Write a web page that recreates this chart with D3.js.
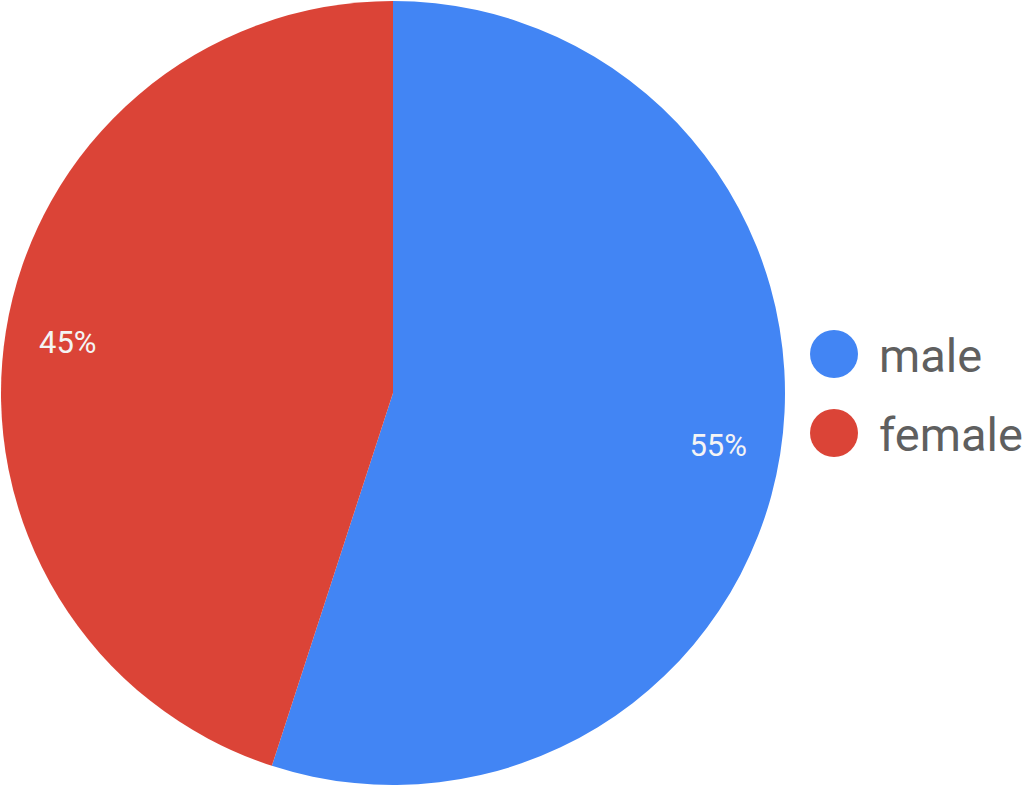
<!DOCTYPE html>
<html>
<head>
<meta charset="utf-8">
<script src="https://cdn.jsdelivr.net/npm/d3@7"></script>
<style>
body { margin: 0; background: #fff; }
svg { display: block; font-family: Roboto, Arial, sans-serif; }
</style>
</head>
<body>
<svg width="1024" height="787"></svg>
<script>
var categories = ['male', 'female'];
var values = [55, 45];
var colors = ['#4285f4', '#db4437'];

var width = 1024;
var height = 787;
var cx = 393, cy = 393, radius = 392;

var svg = d3.select('svg');

var pie = d3.pie().sort(null).value(function(d){ return d; });
var arcs = pie(values);
var total = d3.sum(values);

var arc = d3.arc().innerRadius(0).outerRadius(radius);
var labelArc = d3.arc().innerRadius(radius*0.84).outerRadius(radius*0.84);

var g = svg.append('g')
.attr('transform', 'translate('+cx+','+cy+')');

g.selectAll('path')
.data(arcs)
.enter()
.append('path')
.attr('d', arc)
.attr('fill', function(d,i){ return colors[i]; });

// percentage labels inside slices
g.selectAll('text')
.data(arcs)
.enter()
.append('text')
.attr('transform', function(d){ return 'translate('+labelArc.centroid(d)+')'; })
.attr('dy', '0.36em')
.attr('text-anchor', 'middle')
.attr('font-size', 31)
.attr('fill', '#f4f4f4')
.text(function(d){ return Math.round(d.value/total*100)+'%'; });

// legend
var legend = svg.append('g')
.attr('transform', 'translate(834,354)');

var item = legend.selectAll('g')
.data(categories)
.enter()
.append('g')
.attr('transform', function(d,i){ return 'translate(0,'+(i*79)+')'; });

item.append('circle')
.attr('r', 24)
.attr('fill', function(d,i){ return colors[i]; });

item.append('text')
.attr('x', 45)
.attr('y', 18)
.attr('font-size', 47)
.attr('fill', '#5f5f5f')
.text(function(d){ return d; });
</script>
</body>
</html>
